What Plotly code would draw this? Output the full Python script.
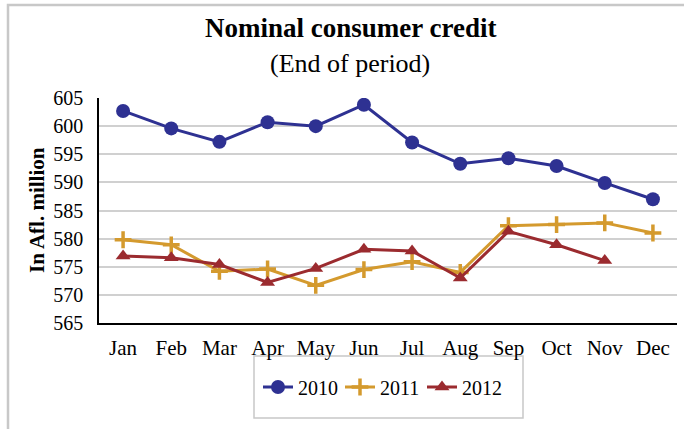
import plotly.graph_objects as go

months = ["Jan", "Feb", "Mar", "Apr", "May", "Jun", "Jul", "Aug", "Sep", "Oct", "Nov", "Dec"]
credit_2010 = [602.7, 599.6, 597.2, 600.7, 600.0, 603.8, 597.1, 593.3, 594.3, 592.9, 589.9, 587.0]
credit_2011 = [579.8, 578.9, 574.2, 574.6, 571.7, 574.5, 575.9, 574.0, 582.3, 582.5, 582.8, 581.0]
credit_2012 = [576.9, 576.6, 575.4, 572.2, 574.7, 578.1, 577.8, 573.0, 581.3, 578.9, 576.1]

FONT = "Liberation Serif, Times New Roman, serif"

fig = go.Figure()
fig.add_trace(go.Scatter(
    x=months, y=credit_2010, name="2010", mode="lines+markers",
    line=dict(color="#2E3192", width=3),
    marker=dict(symbol="circle", size=14, color="#2E3192"),
))
fig.add_trace(go.Scatter(
    x=months, y=credit_2011, name="2011", mode="lines+markers",
    line=dict(color="#D49A2E", width=3),
    marker=dict(symbol="cross-thin", size=12, color="#D49A2E",
                line=dict(color="#D49A2E", width=3.5)),
))
fig.add_trace(go.Scatter(
    x=months[:len(credit_2012)], y=credit_2012, name="2012", mode="lines+markers",
    line=dict(color="#9B2B2F", width=3),
    marker=dict(symbol="triangle-up", size=13, color="#9B2B2F"),
))

W, H = 684, 429
L, R, T, B = 99, 7, 98, 106
pw, ph = W - L - R, H - T - B

def px_x(p):
    return (p - L) / pw

def px_y(p):
    return (H - B - p) / ph

fig.update_layout(
    width=W, height=H,
    margin=dict(l=L, r=R, t=T, b=B),
    paper_bgcolor="white", plot_bgcolor="white",
    font=dict(family=FONT, size=21, color="black"),
    showlegend=True,
    legend=dict(
        orientation="h", x=px_x(258), xanchor="left",
        y=px_y(387), yanchor="middle",
        borderwidth=0, bgcolor="rgba(0,0,0,0)",
        font=dict(family=FONT, size=20, color="black"),
        itemwidth=30, entrywidth=37, entrywidthmode="pixels",
    ),
    xaxis=dict(
        type="category", range=[-0.5, 11.5],
        showline=True, linecolor="black", linewidth=1.5,
        showgrid=False, ticks="", ticklabelstandoff=5,
        tickfont=dict(family=FONT, size=21),
        fixedrange=True,
    ),
    yaxis=dict(
        range=[565, 605], dtick=5, tick0=565,
        showline=True, linecolor="black", linewidth=1.5,
        showgrid=True, gridcolor="#d0d0d0", gridwidth=1.5,
        ticks="", ticklabelstandoff=10,
        tickfont=dict(family=FONT, size=20),
        zeroline=False,
    ),
    annotations=[
        dict(text="<b>Nominal consumer credit</b>", x=px_x(350), y=px_y(28),
             xref="paper", yref="paper", showarrow=False,
             font=dict(family=FONT, size=27, color="black"), xanchor="center", yanchor="middle"),
        dict(text="(End of period)", x=px_x(350), y=px_y(64),
             xref="paper", yref="paper", showarrow=False,
             font=dict(family=FONT, size=26, color="black"), xanchor="center", yanchor="middle"),
        dict(text="<b>In Afl. million</b>", x=px_x(37), y=px_y(210),
             xref="paper", yref="paper", showarrow=False, textangle=-90,
             font=dict(family=FONT, size=21, color="black"), xanchor="center", yanchor="middle"),
    ],
    shapes=[
        dict(type="rect", xref="paper", yref="paper", layer="below",
             x0=px_x(8), x1=px_x(W + 10), y0=px_y(H + 10), y1=px_y(5),
             line=dict(color="#c8c8c8", width=2.5), fillcolor="rgba(0,0,0,0)"),
        dict(type="rect", xref="paper", yref="paper", layer="below",
             x0=px_x(254), x1=px_x(523), y0=px_y(418), y1=px_y(356),
             line=dict(color="#c8c8c8", width=1.5), fillcolor="rgba(0,0,0,0)"),
    ],
)

fig.write_html("out.html", config={"displayModeBar": False},
               post_script="document.body.style.margin='0';")
